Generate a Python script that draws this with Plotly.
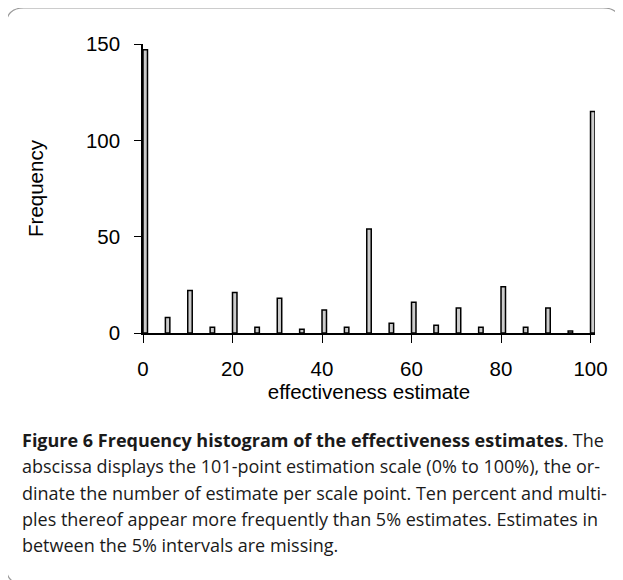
import plotly.graph_objects as go

# Data: estimate values (percent) and frequency counts
estimates = [0, 5, 10, 15, 20, 25, 30, 35, 40, 45, 50, 55, 60, 65, 70, 75, 80, 85, 90, 95, 100]
frequency = [147, 8, 22, 3, 21, 3, 18, 2, 12, 3, 54, 5, 16, 4, 13, 3, 24, 3, 13, 1, 115]
x_ticks = [0, 20, 40, 60, 80, 100]
y_ticks = [0, 50, 100, 150]

# page has an 8px body margin, so figure pixel = page pixel - 8
OFF = 8
W, H = 623 - OFF, 580 - OFF
L, R, T, B = 143 - OFF, 595 - OFF, 44 - OFF, 333 - OFF  # plot area in pixels


def px(x):
    return (x - OFF - L) / (R - L)


def py(y):
    return (B - (y - OFF)) / (B - T)


fig = go.Figure()
fig.add_trace(go.Bar(
    x=estimates, y=frequency, width=1, offset=0,
    marker=dict(color="#cccccc", line=dict(color="black", width=1.5)),
    hoverinfo="x+y",
))

axis_font = dict(family="Liberation Sans, Arial, sans-serif", size=20.5, color="black")

fig.update_layout(
    width=W, height=H,
    margin=dict(l=L, r=W - R, t=T, b=H - B, pad=0),
    plot_bgcolor="white", paper_bgcolor="white",
    showlegend=False,
    font=axis_font,
    xaxis=dict(
        range=[0, 101], tickvals=x_ticks, ticks="outside", ticklen=8, tickwidth=1.3,
        tickcolor="black", showline=True, linecolor="black", linewidth=2,
        showgrid=False, zeroline=False, tickfont=axis_font, ticklabelstandoff=8,
        automargin=False,
        title=dict(text="effectiveness estimate", font=axis_font, standoff=6),
    ),
    yaxis=dict(
        range=[0, 150], tickvals=y_ticks, ticks="outside", ticklen=7, tickwidth=1.3,
        tickcolor="black", showline=True, linecolor="black", linewidth=1.5,
        showgrid=False, zeroline=False, tickfont=axis_font, ticklabelstandoff=10,
        automargin=False,
        title=dict(text="Frequency", font=axis_font, standoff=37),
    ),
)

# rounded frame (bottom edge runs just off the picture)
r = 18
x0, x1, y0, y1 = 6, 621, 8, 584
path = (f"M {px(x0 + r)} {py(y0)} L {px(x1 - r)} {py(y0)} "
        f"Q {px(x1)} {py(y0)} {px(x1)} {py(y0 + r)} L {px(x1)} {py(y1 - r)} "
        f"Q {px(x1)} {py(y1)} {px(x1 - r)} {py(y1)} L {px(x0 + r)} {py(y1)} "
        f"Q {px(x0)} {py(y1)} {px(x0)} {py(y1 - r)} L {px(x0)} {py(y0 + r)} "
        f"Q {px(x0)} {py(y0)} {px(x0 + r)} {py(y0)} Z")
fig.add_shape(type="path", path=path, xref="paper", yref="paper",
              line=dict(color="#9a9a9a", width=1.2), layer="below")

caption_lines = [
    "<b>Figure 6 Frequency histogram of the effectiveness estimates</b>. The",
    "abscissa displays the 101-point estimation scale (0% to 100%), the or-",
    "dinate the number of estimate per scale point. Ten percent and multi-",
    "ples thereof appear more frequently than 5% estimates. Estimates in",
    "between the 5% intervals are missing.",
]
cap_font = dict(family="Open Sans, Noto Sans, sans-serif", size=18, color="#1a1a1a")
for i, line in enumerate(caption_lines):
    fig.add_annotation(text=line, xref="paper", yref="paper",
                       x=px(20), y=py(440 + 26.3 * i), xanchor="left", yanchor="middle",
                       showarrow=False, font=cap_font, align="left")

fig.write_html("out.html")
